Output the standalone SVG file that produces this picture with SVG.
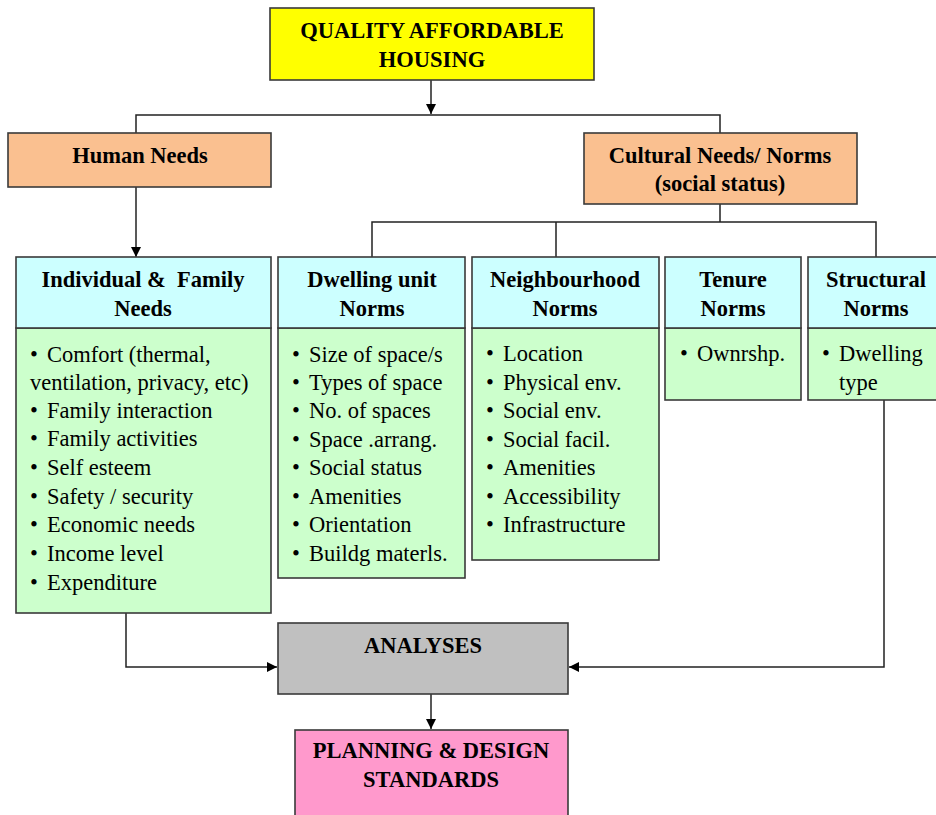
<svg xmlns="http://www.w3.org/2000/svg" width="936" height="815" viewBox="0 0 936 815">
<style>
.box{stroke:#3a3a3a;stroke-width:1.6}
.t{font-family:"Liberation Serif","Times New Roman",serif;font-size:22.5px;fill:#000}
.h{font-weight:bold;text-anchor:middle}
.ln{fill:none;stroke:#222;stroke-width:1.5}
</style>
<defs>
<marker id="ar" viewBox="0 0 10 10" refX="10" refY="5" markerWidth="10" markerHeight="10" markerUnits="userSpaceOnUse" orient="auto">
<path d="M0,0 L10,5 L0,10 z" fill="#000"/>
</marker>
</defs>
<rect width="936" height="815" fill="#fff"/>
<g id="connectors">
<path class="ln" d="M431,80 V114" marker-end="url(#ar)"/>
<path class="ln" d="M136,133 V115 H720 V133"/>
<path class="ln" d="M136,187 V257" marker-end="url(#ar)"/>
<path class="ln" d="M720,204 V222 M372,257 V222 H876 V257 M556,222 V257"/>
<path class="ln" d="M126,613 V667 H277" marker-end="url(#ar)"/>
<path class="ln" d="M884,400 V667 H569" marker-end="url(#ar)"/>
<path class="ln" d="M431,694 V729" marker-end="url(#ar)"/>
</g>
<g id="quality">
<rect class="box" x="270" y="8" width="324" height="72" fill="#FFFF00"/>
<text class="t h" x="432" y="38">QUALITY AFFORDABLE</text>
<text class="t h" x="432" y="67">HOUSING</text>
</g>
<g id="human">
<rect class="box" x="8" y="133" width="263" height="54" fill="#FAC090"/>
<text class="t h" x="140" y="163">Human Needs</text>
</g>
<g id="cultural">
<rect class="box" x="584" y="133" width="273" height="71" fill="#FAC090"/>
<text class="t h" x="720" y="163">Cultural Needs/ Norms</text>
<text class="t h" x="720" y="191">(social status)</text>
</g>
<g id="individual">
<rect class="box" x="16" y="328" width="255" height="285" fill="#CCFFCC"/>
<rect class="box" x="16" y="257" width="255" height="71" fill="#CCFFFF"/>
<text class="t h" x="143" y="287" xml:space="preserve">Individual &amp;  Family</text>
<text class="t h" x="143" y="316">Needs</text>
<g class="t">
<text x="30" y="362">•<tspan x="47">Comfort (thermal,</tspan></text>
<text x="30" y="390">ventilation, privacy, etc)</text>
<text x="30" y="418">•<tspan x="47">Family interaction</tspan></text>
<text x="30" y="446">•<tspan x="47">Family activities</tspan></text>
<text x="30" y="475">•<tspan x="47">Self esteem</tspan></text>
<text x="30" y="504">•<tspan x="47">Safety / security</tspan></text>
<text x="30" y="532">•<tspan x="47">Economic needs</tspan></text>
<text x="30" y="561">•<tspan x="47">Income level</tspan></text>
<text x="30" y="590">•<tspan x="47">Expenditure</tspan></text>
</g>
</g>
<g id="dwelling">
<rect class="box" x="278" y="328" width="187" height="250" fill="#CCFFCC"/>
<rect class="box" x="278" y="257" width="187" height="71" fill="#CCFFFF"/>
<text class="t h" x="372" y="287">Dwelling unit</text>
<text class="t h" x="372" y="316">Norms</text>
<g class="t">
<text x="292" y="362">•<tspan x="309">Size of space/s</tspan></text>
<text x="292" y="390">•<tspan x="309">Types of space</tspan></text>
<text x="292" y="418">•<tspan x="309">No. of spaces</tspan></text>
<text x="292" y="447">•<tspan x="309">Space .arrang.</tspan></text>
<text x="292" y="475">•<tspan x="309">Social status</tspan></text>
<text x="292" y="504">•<tspan x="309">Amenities</tspan></text>
<text x="292" y="532">•<tspan x="309">Orientation</tspan></text>
<text x="292" y="561">•<tspan x="309">Buildg materls.</tspan></text>
</g>
</g>
<g id="neighbourhood">
<rect class="box" x="472" y="328" width="187" height="232" fill="#CCFFCC"/>
<rect class="box" x="472" y="257" width="187" height="71" fill="#CCFFFF"/>
<text class="t h" x="565" y="287">Neighbourhood</text>
<text class="t h" x="565" y="316">Norms</text>
<g class="t">
<text x="486" y="361">•<tspan x="503">Location</tspan></text>
<text x="486" y="390">•<tspan x="503">Physical env.</tspan></text>
<text x="486" y="418">•<tspan x="503">Social env.</tspan></text>
<text x="486" y="447">•<tspan x="503">Social facil.</tspan></text>
<text x="486" y="475">•<tspan x="503">Amenities</tspan></text>
<text x="486" y="504">•<tspan x="503">Accessibility</tspan></text>
<text x="486" y="532">•<tspan x="503">Infrastructure</tspan></text>
</g>
</g>
<g id="tenure">
<rect class="box" x="665" y="328" width="136" height="72" fill="#CCFFCC"/>
<rect class="box" x="665" y="257" width="136" height="71" fill="#CCFFFF"/>
<text class="t h" x="733" y="287">Tenure</text>
<text class="t h" x="733" y="316">Norms</text>
<text class="t" x="680" y="361">•<tspan x="697">Ownrshp.</tspan></text>
</g>
<g id="structural">
<rect class="box" x="808" y="328" width="134" height="72" fill="#CCFFCC"/>
<rect class="box" x="808" y="257" width="134" height="71" fill="#CCFFFF"/>
<text class="t h" x="876" y="287">Structural</text>
<text class="t h" x="876" y="316">Norms</text>
<text class="t" x="822" y="361">•<tspan x="839">Dwelling</tspan></text>
<text class="t" x="839" y="390">type</text>
</g>
<g id="analyses">
<rect class="box" x="278" y="623" width="290" height="71" fill="#C0C0C0"/>
<text class="t h" x="423" y="653">ANALYSES</text>
</g>
<g id="planning">
<rect class="box" x="295" y="730" width="273" height="90" fill="#FF99CC"/>
<text class="t h" x="431" y="758">PLANNING &amp; DESIGN</text>
<text class="t h" x="431" y="787">STANDARDS</text>
</g>
</svg>
